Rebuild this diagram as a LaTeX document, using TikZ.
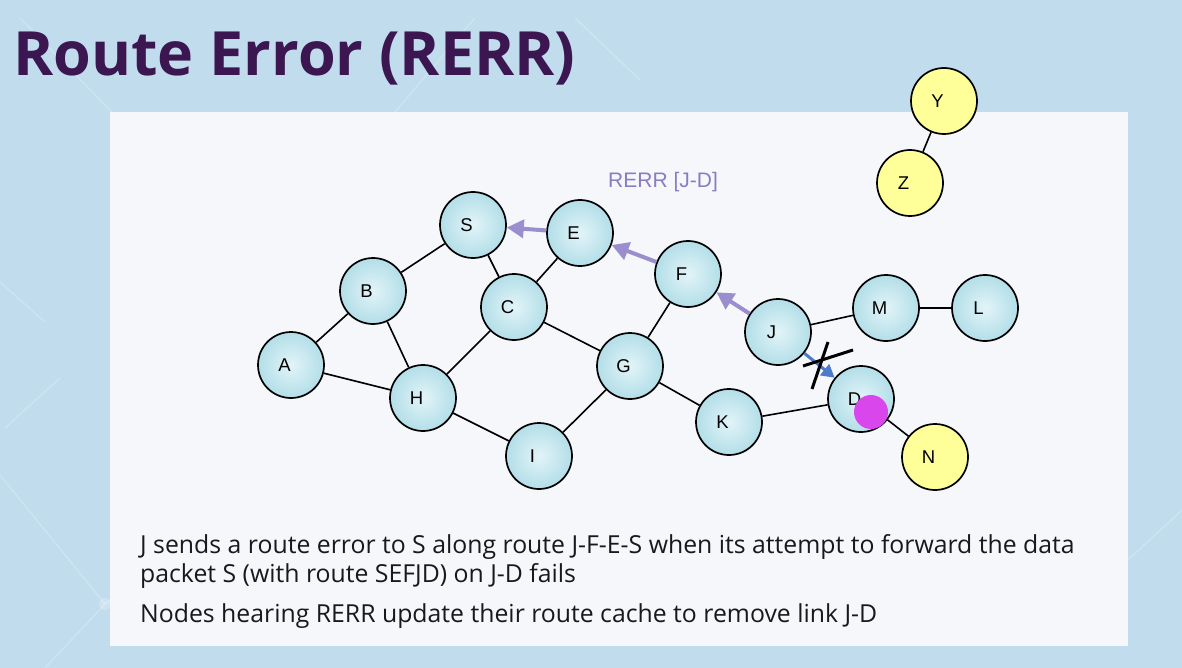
\documentclass[tikz,border=0pt]{standalone}
\usepackage{fontspec}
\setmainfont{Open Sans}
\newfontfamily\arialf{Liberation Sans}
\usetikzlibrary{arrows.meta}
\definecolor{bgblue}{HTML}{C1DCEC}
\definecolor{panel}{HTML}{F5F7FB}
\definecolor{titlec}{HTML}{3B1650}
\definecolor{nodein}{HTML}{E2F4F8}
\definecolor{nodeout}{HTML}{B3DEE8}
\definecolor{yel}{HTML}{FFFF9A}
\definecolor{rerrc}{HTML}{9A8ECE}
\definecolor{rerrtxt}{HTML}{8A7CC2}
\definecolor{bluearr}{HTML}{4C7BCB}
\definecolor{magdot}{HTML}{D946EC}
\newcommand\lbl[1]{\makebox[0pt]{\hspace{-13pt}#1}}
\tikzset{
  netnode/.style={circle, draw=black, line width=1.7pt, minimum size=66pt, inner sep=0pt,
    inner color=nodein, outer color=nodeout, font=\arialf\fontsize{18.5}{18.5}\selectfont},
  yelnode/.style={circle, draw=black, line width=1.7pt, minimum size=66pt, inner sep=0pt,
    fill=yel, font=\arialf\fontsize{18.5}{18.5}\selectfont},
  link/.style={draw=black, line width=1.6pt},
  rerrarrow/.style={draw=rerrc, line width=4pt, -{Triangle[length=17pt,width=18pt]}},
  jdarrow/.style={draw=bluearr, line width=3pt, -{Triangle[length=13pt,width=14pt]}},
  cross/.style={draw=black, line width=3pt},
  bodytext/.style={anchor=base west, text=black!90, font=\fontsize{24.8}{29}\selectfont, inner sep=0pt},
  faint/.style={draw=white, opacity=0.22, line width=1.5pt}
}
\begin{document}
\begin{tikzpicture}[x=1pt,y=-1pt]
\useasboundingbox (0,0) rectangle (1182,668);
\fill[bgblue] (0,0) rectangle (1182,668);
% faint background lines
\draw[faint] (20,18) -- (112,112);
\draw[faint] (475,18) -- (395,112);
\draw[faint] (575,18) -- (640,80);
\draw[faint] (0,282) -- (45,322);
\draw[faint] (5,428) -- (60,378);
\draw[faint] (0,475) -- (105,604) -- (45,668);
\draw[faint] (105,604) -- (125,588);
\fill[white, opacity=0.22] (105,604) circle (6);
\draw[faint] (1128,560) -- (1182,510);
% panel
\fill[panel] (110,112) rectangle (1128,646);
% title
\node[anchor=base west, inner sep=0pt, text=titlec, font=\bfseries\fontsize{61}{61}\selectfont] (title) at (13,76) {Route Error (RERR)};
% nodes
\node[netnode] (S) at (473,225) {\lbl{S}};
\node[netnode] (E) at (580,233) {\lbl{E}};
\node[netnode] (F) at (688,274) {\lbl{F}};
\node[netnode] (B) at (373,291) {\lbl{B}};
\node[netnode] (C) at (514,307) {\lbl{C}};
\node[netnode] (A) at (291,365) {\lbl{A}};
\node[netnode] (H) at (423,398) {\lbl{H}};
\node[netnode] (I) at (539,456) {\lbl{I}};
\node[netnode] (G) at (630,366) {\lbl{G}};
\node[netnode] (K) at (729,422) {\lbl{K}};
\node[netnode] (J) at (778,332) {\lbl{J}};
\node[netnode] (M) at (886,308) {\lbl{M}};
\node[netnode] (L) at (985,308) {\lbl{L}};
\node[netnode] (D) at (861,399) {\lbl{D}};
\node[yelnode] (N) at (935,457) {\lbl{N}};
\node[yelnode] (Y) at (944,101) {\lbl{Y}};
\node[yelnode] (Z) at (910,183) {\lbl{Z}};
% links
\draw[link] (S) -- (B);
\draw[link] (S) -- (C);
\draw[link] (E) -- (C);
\draw[link] (B) -- (A);
\draw[link] (B) -- (H);
\draw[link] (A) -- (H);
\draw[link] (C) -- (H);
\draw[link] (C) -- (G);
\draw[link] (H) -- (I);
\draw[link] (I) -- (G);
\draw[link] (G) -- (F);
\draw[link] (G) -- (K);
\draw[link] (K) -- (D);
\draw[link] (J) -- (M);
\draw[link] (M) -- (L);
\draw[link] (D) -- (N);
\draw[link] (Y) -- (Z);
% magenta dot
\fill[magdot] (871,412) circle (17);
% RERR arrows
\draw[rerrarrow] (E) -- (S);
\draw[rerrarrow] (F) -- (E);
\draw[rerrarrow] (J) -- (F);
\node[anchor=base west, inner sep=0pt, text=rerrtxt, font=\arialf\fontsize{21}{21}\selectfont] (rerrlabel) at (608,188) {RERR [J-D]};
% broken link J-D
\draw[jdarrow] (J) -- (D);
\draw[cross] (803,366) -- (853,350);
\draw[cross] (828,342) -- (812,389);
% text
\node[bodytext] (t1) at (140,553) {J sends a route error to S along route J-F-E-S when its attempt to forward the data};
\node[bodytext] (t2) at (140,582) {packet S (with route SEFJD) on J-D fails};
\node[bodytext] (t3) at (140,622) {Nodes hearing RERR update their route cache to remove link J-D};
\end{tikzpicture}
\end{document}
